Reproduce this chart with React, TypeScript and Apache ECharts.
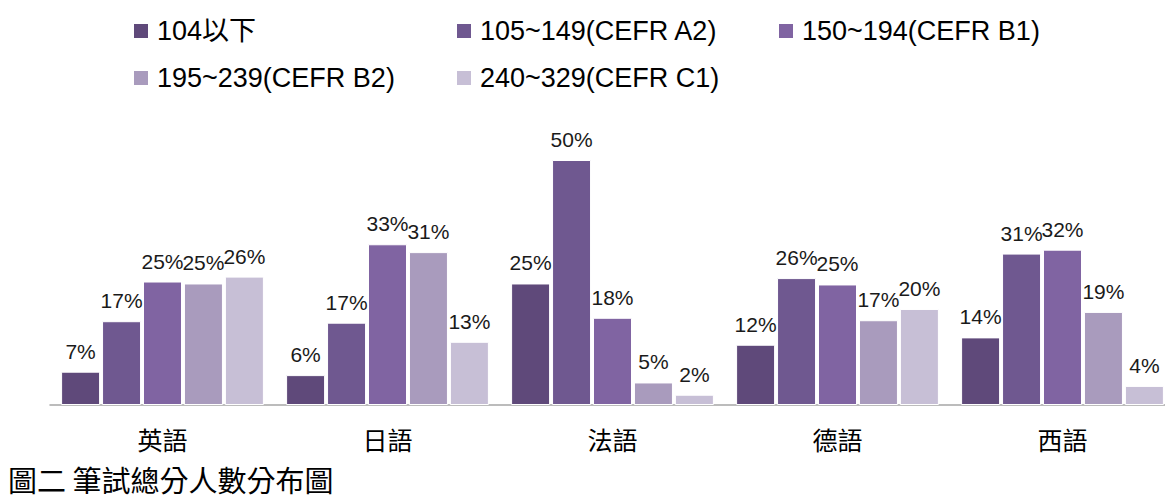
import React, { useEffect, useRef } from "react";
import * as echarts from "echarts";

const categories = ["英語", "日語", "法語", "德語", "西語"];
const seriesNames = [
  "104以下",
  "105~149(CEFR A2)",
  "150~194(CEFR B1)",
  "195~239(CEFR B2)",
  "240~329(CEFR C1)",
];
const below104 = [6.8, 6.1, 24.8, 12.3, 13.8];
const a2 = [17.1, 16.8, 50.0, 25.9, 30.9];
const b1 = [25.2, 32.8, 17.8, 24.6, 31.7];
const b2 = [24.8, 31.2, 4.6, 17.3, 19.0];
const c1 = [26.2, 12.9, 2.1, 19.6, 3.9];
const seriesValues = [below104, a2, b1, b2, c1];
const colors = ["#5f497a", "#6f5890", "#8064a2", "#a99bbd", "#c7bfd6"];
const caption = "圖二 筆試總分人數分布圖";

const legendPos = [
  { left: 132, top: 16 },
  { left: 455, top: 16 },
  { left: 777, top: 16 },
  { left: 132, top: 63 },
  { left: 455, top: 63 },
];

export default function App() {
  const ref = useRef<HTMLDivElement>(null);
  useEffect(() => {
    if (!ref.current) return;
    const chart = echarts.init(ref.current, null, { renderer: "svg" });
    const latin = "'Liberation Sans', 'Noto Sans CJK TC', sans-serif";
    chart.setOption({
      animation: false,
      legend: seriesNames.map((name, i) => ({
        data: [name],
        left: legendPos[i].left,
        top: legendPos[i].top,
        padding: 0,
        icon: "rect",
        itemWidth: 16,
        itemHeight: 16,
        selectedMode: false,
        textStyle: {
          fontSize: 27,
          lineHeight: 30,
          color: "#000",
          fontFamily: latin,
          padding: [0, 0, 0, 3],
        },
      })),
      grid: { left: 50, top: 111, right: 0, bottom: 95 },
      xAxis: {
        type: "category",
        data: categories,
        axisLine: { lineStyle: { color: "#a6a6a6", width: 1.5 } },
        axisTick: { show: false },
        axisLabel: {
          fontSize: 25,
          color: "#000",
          margin: 21,
          fontFamily: "'Noto Sans CJK TC', sans-serif",
        },
      },
      yAxis: { type: "value", min: 0, max: 60, show: false, splitLine: { show: false } },
      graphic: [
        {
          type: "text",
          left: 8,
          top: 463,
          style: {
            text: caption,
            fontSize: 29,
            lineHeight: 32,
            fill: "#000",
            fontFamily: "'Noto Sans CJK TC', serif",
          },
        },
      ],
      series: seriesNames.map((name, i) => ({
        name,
        type: "bar",
        data: seriesValues[i],
        barWidth: 39,
        barGap: "5%",
        itemStyle: { color: colors[i], borderColor: "#fff", borderWidth: 1 },
        labelLayout: { moveOverlap: "shiftX" },
        label: {
          show: true,
          position: "top",
          distance: 10,
          fontSize: 21,
          color: "#1a1a1a",
          fontFamily: latin,
          formatter: (p: any) => Math.round(p.value) + "%",
        },
      })),
    });
    return () => chart.dispose();
  }, []);
  return (
    <div
      ref={ref}
      style={{ position: "fixed", left: 0, top: 0, width: 1175, height: 500, background: "#fff" }}
    />
  );
}
